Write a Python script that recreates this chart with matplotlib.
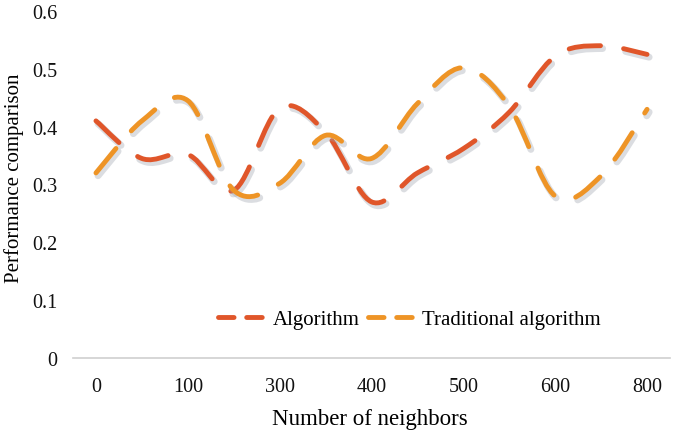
import matplotlib
matplotlib.use('Agg')
import matplotlib.pyplot as plt
import matplotlib.patheffects as pe
from matplotlib.path import Path
from matplotlib.patches import PathPatch
from matplotlib.lines import Line2D

plt.rcParams['font.family'] = ['Liberation Serif', 'DejaVu Serif']

# values at every category; only every second category carries a label
tick_labels = ['0', '100', '300', '400', '500', '600', '800']
algorithm = [0.41, 0.345, 0.352, 0.29, 0.432, 0.39, 0.27, 0.32, 0.362, 0.425, 0.522, 0.54, 0.525]
traditional = [0.32, 0.41, 0.445, 0.29, 0.302, 0.385, 0.345, 0.44, 0.502, 0.435, 0.28, 0.315, 0.43]

c_alg = '#E0562A'
c_trad = '#EE9426'


def smooth_path(ys):
    # Excel-style smoothed line: cubic Bezier segments through every point
    n = len(ys)
    pts = [(float(i), y) for i, y in enumerate(ys)]
    verts = [pts[0]]
    codes = [Path.MOVETO]
    for i in range(n - 1):
        p0 = pts[i - 1] if i > 0 else pts[i]
        p1 = pts[i]
        p2 = pts[i + 1]
        p3 = pts[i + 2] if i + 2 < n else pts[i + 1]
        c1 = (p1[0] + (p2[0] - p0[0]) / 6, p1[1] + (p2[1] - p0[1]) / 6)
        c2 = (p2[0] - (p3[0] - p1[0]) / 6, p2[1] - (p3[1] - p1[1]) / 6)
        verts += [c1, c2, p2]
        codes += [Path.CURVE4] * 3
    return Path(verts, codes)


fig = plt.figure(figsize=(6.75, 4.35), dpi=100)
ax = fig.add_axes([73 / 675, 1 - 359 / 435, (670 - 73) / 675, (359 - 12) / 435])

lw = 3.5
shadow = [pe.Stroke(offset=(1.5, -2), foreground='#9aa0aa', alpha=0.35, linewidth=lw + 1.5), pe.Normal()]
for ys, col in [(algorithm, c_alg), (traditional, c_trad)]:
    patch = PathPatch(smooth_path(ys), fill=False, edgecolor=col, linewidth=lw,
                      linestyle=(0, (6.5, 4.8)), capstyle='round', zorder=3)
    patch.set_path_effects(shadow)
    ax.add_patch(patch)

ax.set_xlim(-0.5, len(algorithm) - 0.5)
ax.set_ylim(0, 0.6)
ax.set_xticks(range(0, len(algorithm), 2))
ax.set_xticklabels(tick_labels)
ax.set_yticks([0, 0.1, 0.2, 0.3, 0.4, 0.5, 0.6])
ax.set_yticklabels(['0', '0.1', '0.2', '0.3', '0.4', '0.5', '0.6'])
ax.tick_params(length=0, labelsize=14.5, colors='#111111', pad=14)
ax.tick_params(axis='y', pad=11)
for s in ['top', 'right', 'left']:
    ax.spines[s].set_visible(False)
ax.spines['bottom'].set_color('#cfcfcf')
ax.spines['bottom'].set_linewidth(1.2)

ax.set_xlabel('Number of neighbors', fontsize=16.5)
ax.set_ylabel('Performance comparison', fontsize=15)
ax.xaxis.set_label_coords(0.497, -0.143)
ax.yaxis.set_label_coords(-0.082, 0.52)

handles = [Line2D([], [], color=c_alg, lw=lw, ls=(0, (3.2, 2.6)), dash_capstyle='round'),
           Line2D([], [], color=c_trad, lw=lw, ls=(0, (3.2, 2.6)), dash_capstyle='round')]
ax.legend(handles, ['Algorithm', 'Traditional algorithm'], loc='lower right',
          bbox_to_anchor=(0.915, 0.03), ncol=2, frameon=False, fontsize=15,
          handlelength=2.4, handletextpad=0.2, columnspacing=0.4)

fig.savefig('out.png', dpi=100)
